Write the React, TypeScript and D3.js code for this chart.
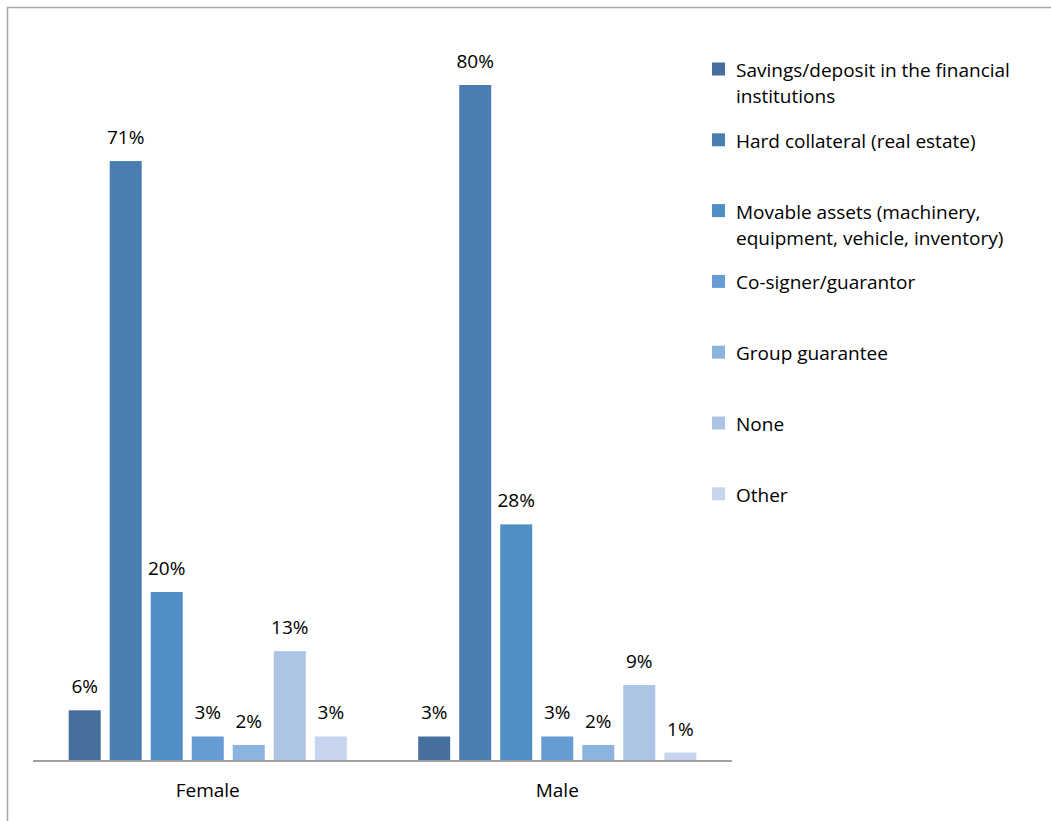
import React from "react";
import * as d3 from "d3";

const categories = ["Female", "Male"];
const seriesNames = [
  "Savings/deposit in the financial institutions",
  "Hard collateral (real estate)",
  "Movable assets (machinery, equipment, vehicle, inventory)",
  "Co-signer/guarantor",
  "Group guarantee",
  "None",
  "Other",
];
const legendLines = [
  ["Savings/deposit in the financial", "institutions"],
  ["Hard collateral (real estate)"],
  ["Movable assets (machinery,", "equipment, vehicle, inventory)"],
  ["Co-signer/guarantor"],
  ["Group guarantee"],
  ["None"],
  ["Other"],
];
const femaleValues = [6.0, 71.0, 20.0, 2.9, 1.9, 13.0, 2.9];
const maleValues = [2.9, 80.0, 28.0, 2.9, 1.9, 9.0, 1.0];
const colors = ["#466f9d", "#4a7eb3", "#4f8fc5", "#669bd3", "#8cb4df", "#aec4e5", "#c7d6ee"];

const W = 1051;
const H = 821;
const FONT = "'Open Sans', sans-serif";

export default function App() {
  const values = [femaleValues, maleValues];
  const x0 = d3.scaleBand<string>().domain(categories).range([33, 732]).paddingInner(0).paddingOuter(0);
  const x1 = d3
    .scaleBand<number>()
    .domain(d3.range(seriesNames.length))
    .range([0, x0.bandwidth()])
    .paddingInner(0.22)
    .paddingOuter(0.87);
  const y = d3.scaleLinear().domain([0, 90]).range([761, 761 - 90 * 8.45]);
  const fmt = (v: number) => `${Math.round(v)}%`;

  return (
    <svg width={W} height={H} style={{ position: "absolute", left: 0, top: 0, background: "#fff" }}>
      <path d={`M7.5,${H} V7.5 H${W}`} fill="none" stroke="#a6a6a6" strokeWidth={1.5} />
      {categories.map((c, ci) => (
        <g key={c}>
          {values[ci].map((v, si) => {
            const bx = (x0(c) as number) + (x1(si) as number);
            const bw = x1.bandwidth();
            return (
              <g key={si}>
                <rect x={bx} y={y(v)} width={bw} height={y(0) - y(v)} fill={colors[si]} />
                <text
                  x={bx + bw / 2}
                  y={y(v) - 17}
                  textAnchor="middle"
                  fontFamily={FONT}
                  fontSize={19}
                  fill="#000"
                >
                  {fmt(v)}
                </text>
              </g>
            );
          })}
          <text
            x={(x0(c) as number) + x0.bandwidth() / 2}
            y={797}
            textAnchor="middle"
            fontFamily={FONT}
            fontSize={19}
            fill="#000"
          >
            {c}
          </text>
        </g>
      ))}
      <line x1={33} x2={732} y1={761} y2={761} stroke="#a0a0a0" strokeWidth={2} />
      {legendLines.map((lines, i) => {
        const cy = 69 + i * 70.8;
        return (
          <g key={i}>
            <rect x={712} y={cy - 6.5} width={13} height={13} fill={colors[i]} />
            <text x={736} y={cy + 8} fontFamily={FONT} fontSize={19} fill="#000">
              {lines.map((l, li) => (
                <tspan key={li} x={736} dy={li === 0 ? 0 : 26}>
                  {l}
                </tspan>
              ))}
            </text>
          </g>
        );
      })}
    </svg>
  );
}
